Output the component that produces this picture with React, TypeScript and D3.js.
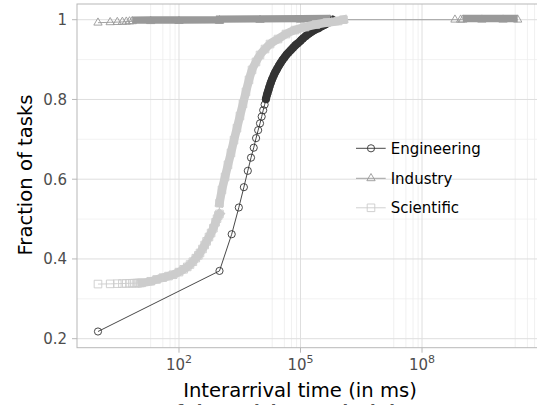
import React from 'react';
import * as d3 from 'd3';

type P = [number, number];

// Engineering: individually visible points, then the dense part
const engSparse: P[] = [
  [1, 0.218], [1000, 0.370], [2000, 0.462], [3000, 0.529], [4000, 0.580],
  [5000, 0.621], [6000, 0.654], [7000, 0.679], [8000, 0.703], [9000, 0.723],
  [10000, 0.740], [11000, 0.757], [12000, 0.773], [13000, 0.787],
];
const engDense: P[] = [
  [14000, 0.801], [15000, 0.813], [16000, 0.822], [17000, 0.831], [18500, 0.842],
  [20000, 0.851], [22000, 0.861], [24000, 0.869], [26500, 0.877], [29000, 0.884],
  [32000, 0.891], [36000, 0.899], [40000, 0.905], [45000, 0.912], [51000, 0.918],
  [58000, 0.924], [66000, 0.930], [75000, 0.936], [86000, 0.941], [100000, 0.947],
  [115000, 0.953], [135000, 0.959], [160000, 0.965], [190000, 0.970], [230000, 0.975],
  [280000, 0.979], [340000, 0.984], [410000, 0.988], [490000, 0.993], [560000, 0.997],
  [620000, 1.0],
];

// Industry
const indSparse: P[] = [
  [1, 0.9925], [2, 0.9935], [3, 0.994], [4, 0.9945], [5, 0.995], [6, 0.9955],
];
const indDense: P[] = [
  [7, 0.996], [20, 0.9963], [100, 0.9965], [999, 0.9967], [1000, 0.9985],
  [10000, 0.9993], [100000, 0.9998], [540000, 1.0],
];
const indTailSparse: P[] = [[6.5e8, 1.0], [9e8, 1.0]];
const indTailDense: P[] = [[1.02e9, 1.0], [3e9, 1.0], [1e10, 1.0], [2.3e10, 1.0]];

// Scientific
const sciSparse: P[] = [
  [1, 0.337], [2, 0.3375], [3, 0.338], [4, 0.3383], [5, 0.3386], [6, 0.3389],
  [7, 0.339], [8, 0.3392], [9, 0.3394], [10, 0.3396], [11, 0.3398],
];
const sciLow: P[] = [
  [12, 0.340], [20, 0.344], [28, 0.3485], [40, 0.353], [55, 0.357], [72, 0.3605],
  [100, 0.367], [130, 0.374], [160, 0.380], [187, 0.386], [220, 0.393], [260, 0.402],
  [300, 0.409], [330, 0.415], [380, 0.425], [430, 0.435], [480, 0.444], [550, 0.455],
  [620, 0.465], [705, 0.477], [800, 0.492], [870, 0.501], [935, 0.509], [999, 0.513],
];
const sciHigh: P[] = [
  [1000, 0.540], [1150, 0.573], [1370, 0.6055], [1620, 0.636], [1920, 0.666],
  [2280, 0.698], [2700, 0.728], [3200, 0.7585], [3800, 0.789], [4500, 0.819],
  [5350, 0.849], [6350, 0.874], [7950, 0.894], [10000, 0.9115], [13300, 0.9265],
  [17700, 0.939], [27800, 0.9515], [43800, 0.964], [73000, 0.974], [129000, 0.9815],
  [241000, 0.988], [451000, 0.993], [843000, 0.9967], [1150000, 1.0],
];

const yTicks = [0.2, 0.4, 0.6, 0.8, 1];
const yTickLabels = ['0.2', '0.4', '0.6', '0.8', '1'];
const yMinor = [0.3, 0.5, 0.7, 0.9];
const xBreakExps = [-1, 2, 5, 8, 11];
const xMinorMult = [2, 4, 6, 8];
const seriesNames = ['Engineering', 'Industry', 'Scientific'];
const seriesColors = ['#333333', '#999999', '#cccccc'];

const FONT = 'DejaVu Sans, sans-serif';

export default function App() {
  const W = 537, H = 405;
  const L = 77, R = 538.6, T = 4, B = 347.7;
  const x = d3.scaleLog().domain([Math.pow(10, -0.518), Math.pow(10, 10.878)]).range([L, R]);
  const y = d3.scaleLinear().domain([0.1774, 1.0394]).range([B, T]);
  const inX = (v: number) => { const p = x(v); return p >= L - 0.01 && p <= R + 0.01; };

  const majorX = xBreakExps.map(e => Math.pow(10, e)).filter(inX);
  const minorX = xBreakExps.flatMap(e => xMinorMult.map(m => m * Math.pow(10, e - 1))).filter(inX);

  const thin = d3.line<P>().x(d => x(d[0])).y(d => y(d[1]));
  const band = d3.line<P>().x(d => x(d[0])).y(d => y(d[1])).curve(d3.curveMonotoneX);
  const bandLin = d3.line<P>().x(d => x(d[0])).y(d => y(d[1]));

  const circ = d3.symbol().type(d3.symbolCircle).size(Math.PI * 3.6 * 3.6)()!;
  const tri = d3.symbol().type(d3.symbolTriangle).size(29.8)()!;
  const sq = d3.symbol().type(d3.symbolSquare).size(7.6 * 7.6)()!;
  const shapes = [circ, tri, sq];

  const engAll = [...engSparse, ...engDense];
  const indAll = [...indSparse, ...indDense, ...indTailSparse, ...indTailDense];
  const sciAll = [...sciSparse, ...sciLow, ...sciHigh];
  const all = [engAll, indAll, sciAll];

  const markers = (pts: P[], i: number) =>
    pts.map((d, k) => (
      <path key={k} d={shapes[i]} transform={`translate(${x(d[0])},${y(d[1])})`}
        fill="none" stroke={seriesColors[i]} strokeWidth={0.9} />
    ));

  const legendY = [148.3, 178.3, 207.8];

  return (
    <svg width={W} height={H} style={{ position: 'absolute', left: 0, top: 0, background: '#fff' }}
      fontFamily={FONT}>
      <rect x={0} y={0} width={W} height={H} fill="#fff" />
      {/* grid */}
      {yMinor.map(v => <line key={'ym' + v} x1={L} x2={R} y1={y(v)} y2={y(v)} stroke="#efefef" strokeWidth={0.8} />)}
      {minorX.map(v => <line key={'xm' + v} x1={x(v)} x2={x(v)} y1={T} y2={B} stroke="#ececec" strokeWidth={0.8} />)}
      {yTicks.map(v => <line key={'yM' + v} x1={L} x2={R} y1={y(v)} y2={y(v)} stroke="#dedede" strokeWidth={1} />)}
      {majorX.map(v => <line key={'xM' + v} x1={x(v)} x2={x(v)} y1={T} y2={B} stroke="#dedede" strokeWidth={1} />)}

      {/* thin connecting lines */}
      {all.map((pts, i) => (
        <path key={'l' + i} d={thin(pts)!} fill="none" stroke={seriesColors[i]} strokeWidth={0.9} />
      ))}

      {/* Engineering points */}
      {markers(engAll, 0)}
      <path d={band(engDense)!} fill="none" stroke={seriesColors[0]} strokeWidth={8.1} strokeLinecap="round" strokeLinejoin="round" />

      {/* Industry points */}
      {markers(indAll, 1)}
      <g transform="translate(0,-1.15)">
        <path d={bandLin(indDense)!} fill="none" stroke={seriesColors[1]} strokeWidth={7.4} strokeLinecap="butt" />
        <path d={bandLin(indTailDense)!} fill="none" stroke={seriesColors[1]} strokeWidth={7.4} strokeLinecap="butt" />
      </g>

      {/* Scientific points */}
      {markers(sciAll, 2)}
      <path d={band(sciLow)!} fill="none" stroke={seriesColors[2]} strokeWidth={8.5} strokeLinecap="square" />
      <path d={band(sciHigh)!} fill="none" stroke={seriesColors[2]} strokeWidth={8.5} strokeLinecap="square" />

      {/* panel border */}
      <rect x={L} y={T} width={R - L} height={B - T} fill="none" stroke="#b8b8b8" strokeWidth={1} />

      {/* y axis */}
      {yTicks.map((v, i) => (
        <g key={'yt' + v}>
          <line x1={L - 5} x2={L} y1={y(v)} y2={y(v)} stroke="#b8b8b8" strokeWidth={1} />
          <text x={L - 10} y={y(v)} dy="0.36em" textAnchor="end" fontSize={15} fill="#4d4d4d">{yTickLabels[i]}</text>
        </g>
      ))}
      {/* x axis */}
      {majorX.map(v => {
        const e = Math.round(Math.log10(v));
        return (
          <g key={'xt' + v}>
            <line x1={x(v)} x2={x(v)} y1={B} y2={B + 5} stroke="#b8b8b8" strokeWidth={1} />
            <text x={x(v)} y={369.5} textAnchor="middle" fontSize={15} fill="#4d4d4d">
              <tspan>10</tspan><tspan dy={-6.5} fontSize={11}>{e}</tspan>
            </text>
          </g>
        );
      })}

      <text x={300} y={397.3} textAnchor="middle" fontSize={19.6} fill="#000">Interarrival time (in ms)</text>
      <text transform="translate(31.5,175) rotate(-90)" textAnchor="middle" fontSize={19.6} fill="#000">Fraction of tasks</text>

      {/* legend */}
      {seriesNames.map((n, i) => (
        <g key={'lg' + n}>
          <line x1={356} x2={385.7} y1={legendY[i]} y2={legendY[i]} stroke={seriesColors[i]} strokeWidth={0.9} />
          <path d={shapes[i]} transform={`translate(371,${legendY[i]})`} fill="none" stroke={seriesColors[i]} strokeWidth={0.9} />
          <text x={390.7} y={legendY[i]} dy="0.36em" fontSize={15} fill="#000">{n}</text>
        </g>
      ))}

      {/* caption, mostly cut off at the bottom edge */}
      <text x={122} y={418} fontSize={18} fontWeight="bold" fill="#555" textLength={311} lengthAdjust="spacingAndGlyphs">CDF of the task interarrival times</text>
    </svg>
  );
}
